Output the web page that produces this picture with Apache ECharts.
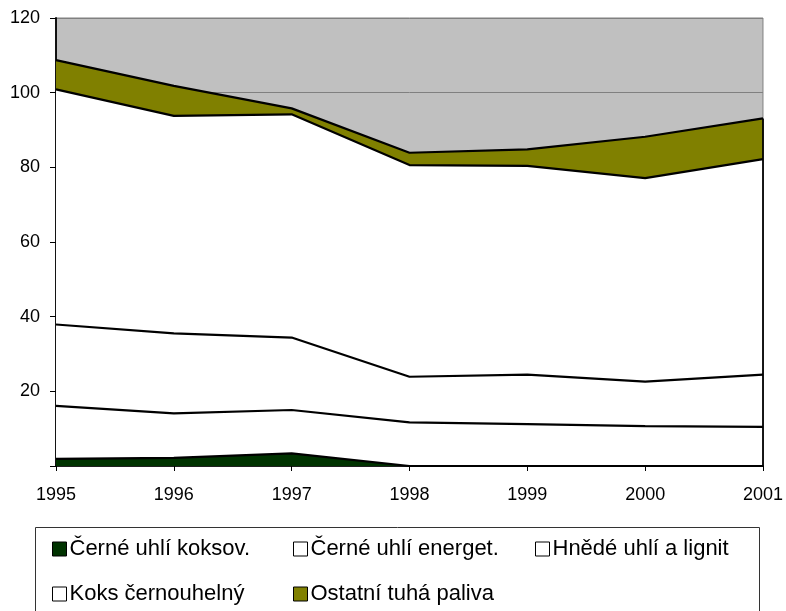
<!DOCTYPE html>
<html>
<head>
<meta charset="utf-8">
<script src="https://cdn.jsdelivr.net/npm/echarts@6/dist/echarts.min.js"></script>
<style>
    html, body { margin: 0; padding: 0; background: #fff; }
    #chart { width: 786px; height: 611px; }
</style>
</head>
<body>
<div id="chart"></div>
<script>
// roky
const years = ['1995', '1996', '1997', '1998', '1999', '2000', '2001']

// jednotlivé vrstvy (skládané)
const cerneKoksov = [1.9, 2.2, 3.4, 0, 0, 0, 0]
const cerneEnerget = [14.2, 11.9, 11.6, 11.7, 11.2, 10.7, 10.5]
const hnedeLignit = [21.8, 21.4, 19.4, 12.2, 13.3, 11.9, 14.0]
const koksCerno = [63.0, 58.3, 59.8, 56.7, 55.9, 54.5, 57.7]
const ostatni = [7.8, 8.0, 1.6, 3.3, 4.4, 11.1, 10.9]

const names = ['Černé uhlí koksov.', 'Černé uhlí energet.', 'Hnědé uhlí a lignit', 'Koks černouhelný', 'Ostatní tuhá paliva']
const colors = ['#003300', '#ffffff', '#ffffff', '#ffffff', '#808000']
const layers = [cerneKoksov, cerneEnerget, hnedeLignit, koksCerno, ostatni]

const font = 'Arial, "Liberation Sans", sans-serif'

const last = years.length - 1
const lastTotal = layers.reduce((s, arr) => s + arr[last], 0)

const chart = echarts.init(document.getElementById('chart'))

const series = layers.map((arr, i) => {
    const s = {
        name: names[i],
        type: 'line',
        stack: 'total',
        data: arr,
        symbol: 'none',
        lineStyle: { color: '#000', width: 2.2 },
        itemStyle: { color: colors[i] },
        areaStyle: { color: colors[i], opacity: 1 },
        emphasis: { disabled: true },
        silent: true,
        animation: false
    }
    if (i === layers.length - 1) {
        // pravý okraj plochy
        s.markLine = {
            symbol: 'none',
            silent: true,
            label: { show: false },
            lineStyle: { color: '#000', width: 1.8, type: 'solid' },
            data: [[{ coord: [years[last], 0] }, { coord: [years[last], lastTotal] }]]
        }
    }
    return s
})

// legenda - každá položka zvlášť kvůli sloupcům
const legendPos = [
    { left: 52, top: 538 },
    { left: 293, top: 538 },
    { left: 535, top: 538 },
    { left: 52, top: 583 },
    { left: 293, top: 583 }
]
const legends = names.map((n, i) => ({
    data: [n],
    left: legendPos[i].left,
    top: legendPos[i].top,
    padding: 0,
    icon: 'rect',
    itemWidth: 14,
    itemHeight: 14,
    itemGap: 0,
    selectedMode: false,
    itemStyle: { borderColor: '#000', borderWidth: 1 },
    textStyle: { fontFamily: font, fontSize: 22, color: '#000', padding: [0, 0, 0, -2] }
}))

chart.setOption({
    animation: false,
    grid: {
        left: 56,
        right: 23,
        top: 18,
        bottom: 145,
        show: true,
        backgroundColor: '#C0C0C0',
        borderColor: '#808080',
        borderWidth: 1
    },
    graphic: [{
        type: 'rect',
        shape: { x: 35.5, y: 527.5, width: 724, height: 100 },
        style: { fill: 'none', stroke: '#333', lineWidth: 1 },
        z: 0
    }],
    legend: legends,
    xAxis: {
        type: 'category',
        data: years,
        boundaryGap: false,
        axisLine: { lineStyle: { color: '#000', width: 1.5 } },
        axisTick: { show: true, length: 5, lineStyle: { color: '#000' } },
        axisLabel: { interval: 0, margin: 20, fontFamily: font, fontSize: 18, color: '#000' },
        splitLine: { show: false }
    },
    yAxis: {
        type: 'value',
        min: 0,
        max: 120,
        interval: 20,
        axisLine: { show: true, lineStyle: { color: '#000', width: 1.8 } },
        axisTick: { show: true, length: 6, lineStyle: { color: '#000' } },
        axisLabel: {
            margin: 16,
            fontFamily: font,
            fontSize: 18,
            color: '#000',
            formatter: v => (v === 0 ? '' : v)
        },
        splitLine: { show: true, lineStyle: { color: '#808080', width: 1 } }
    },
    series: series
})
</script>
</body>
</html>
